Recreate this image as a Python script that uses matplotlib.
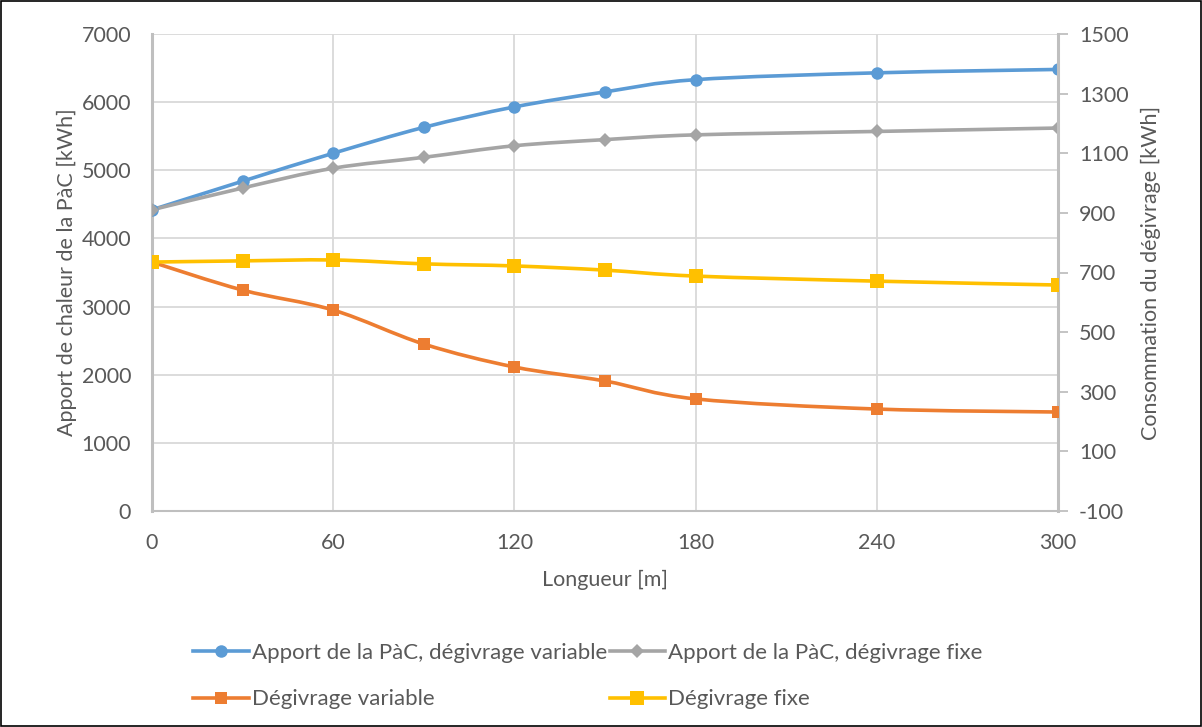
import matplotlib
matplotlib.use("Agg")
import matplotlib.pyplot as plt
from matplotlib.path import Path
from matplotlib.patches import PathPatch, Rectangle
from matplotlib.lines import Line2D
import numpy as np

plt.rcParams['font.family'] = ['Lato', 'DejaVu Sans']
plt.rcParams['axes.unicode_minus'] = False

longueur = [0, 30, 60, 90, 120, 150, 180, 240, 300]
apport_variable = [4420, 4840, 5250, 5630, 5930, 6150, 6330, 6430, 6480]
apport_fixe = [4420, 4740, 5030, 5190, 5360, 5450, 5520, 5570, 5620]
degivrage_variable = [735, 641, 574, 460, 383, 336, 276, 242, 232]
degivrage_fixe = [735, 739, 742, 729, 722, 708, 688, 671, 658]

labels = ["Apport de la PàC, dégivrage variable", "Apport de la PàC, dégivrage fixe",
          "Dégivrage variable", "Dégivrage fixe"]
colors = ["#5B9BD5", "#A5A5A5", "#ED7D31", "#FFC000"]
markers = ["o", "D", "s", "s"]
msizes = [9, 7, 9, 10]
x_ticks = [0, 60, 120, 180, 240, 300]
left_ticks = list(range(0, 7001, 1000))
right_ticks = list(range(-100, 1501, 200))
text_color = "#595959"
axis_color = "#BFBFBF"
grid_color = "#D9D9D9"


def smooth_path(xs, ys):
    pts = np.column_stack([xs, ys]).astype(float)
    n = len(pts)
    verts = [pts[0]]
    codes = [Path.MOVETO]
    for i in range(n - 1):
        p0 = pts[i - 1] if i > 0 else pts[i]
        p1 = pts[i]
        p2 = pts[i + 1]
        p3 = pts[i + 2] if i + 2 < n else pts[i + 1]
        c1 = p1 + (p2 - p0) / 6.0
        c2 = p2 - (p3 - p1) / 6.0
        verts += [c1, c2, p2]
        codes += [Path.CURVE4] * 3
    return Path(verts, codes)


fig = plt.figure(figsize=(12.02, 7.27), dpi=100)
ax = fig.add_axes([152 / 1202, 1 - 511 / 727, 906 / 1202, 477 / 727])
ax2 = ax.twinx()

lw = 2.6
for a, ys, c, m, ms in [(ax, apport_variable, colors[0], markers[0], msizes[0]),
                        (ax, apport_fixe, colors[1], markers[1], msizes[1]),
                        (ax2, degivrage_variable, colors[2], markers[2], msizes[2]),
                        (ax2, degivrage_fixe, colors[3], markers[3], msizes[3])]:
    a.add_patch(PathPatch(smooth_path(longueur, ys), facecolor="none", edgecolor=c,
                          lw=lw, capstyle="round", joinstyle="round", zorder=3))
    a.plot(longueur, ys, linestyle="none", marker=m, color=c, markersize=ms,
           markeredgewidth=0, zorder=4)

ax.set_xlim(0, 300)
ax.set_ylim(0, 7000)
ax2.set_ylim(-100, 1500)
ax.set_xticks(x_ticks)
ax.set_yticks(left_ticks)
ax2.set_yticks(right_ticks)

ax.grid(True, color=grid_color, lw=1.3)
ax.set_axisbelow(True)

for a in (ax, ax2):
    for s in a.spines.values():
        s.set_visible(False)
ax.spines['left'].set_visible(True)
ax.spines['left'].set_color(axis_color)
ax.spines['left'].set_linewidth(2.2)
ax.spines['bottom'].set_visible(True)
ax.spines['bottom'].set_color(axis_color)
ax.spines['bottom'].set_linewidth(1.5)
ax2.spines['right'].set_visible(True)
ax2.spines['right'].set_color(axis_color)
ax2.spines['right'].set_linewidth(2.2)

fs = 15.5
ax.tick_params(axis='both', length=0, labelsize=fs, labelcolor=text_color)
ax.tick_params(axis='y', pad=15)
ax.tick_params(axis='x', pad=16)
ax2.tick_params(axis='y', length=7, width=1.3, color=axis_color, labelsize=fs,
                labelcolor=text_color, pad=8)

ax.set_xlabel("Longueur [m]", fontsize=fs, color=text_color, labelpad=12)
ax.set_ylabel("Apport de chaleur de la PàC [kWh]", fontsize=fs, color=text_color, labelpad=3)
ax2.set_ylabel("Consommation du dégivrage [kWh]", fontsize=fs, color=text_color, labelpad=9)

handles = [Line2D([], [], color=c, lw=lw, marker=m, markersize=ms, markeredgewidth=0)
           for c, m, ms in zip(colors, markers, msizes)]
order = [0, 2, 1, 3]
fig.legend([handles[i] for i in order], [labels[i] for i in order], ncol=2,
           loc="center", bbox_to_anchor=(588 / 1202, 1 - 676 / 727), frameon=False,
           fontsize=16, labelcolor=text_color, handlelength=2.5, handletextpad=0.15,
           columnspacing=0.1, labelspacing=1.2)

fig.patches.append(Rectangle((0.0008, 0.0014), 0.9984, 0.9972, transform=fig.transFigure,
                             fill=False, edgecolor="black", lw=1.2))

fig.savefig("out.png", dpi=100)
